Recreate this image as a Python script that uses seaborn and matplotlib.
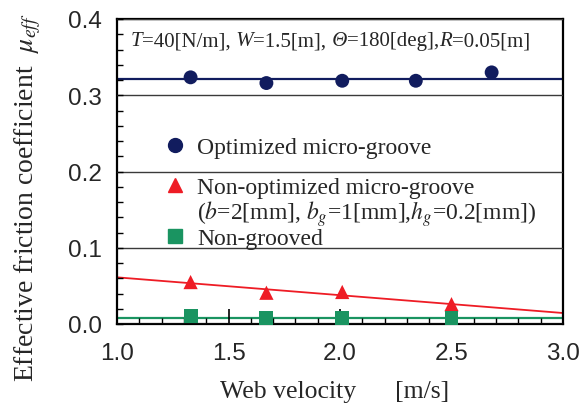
import matplotlib
matplotlib.use("Agg")
import matplotlib.pyplot as plt
from matplotlib.lines import Line2D
from matplotlib.ticker import MultipleLocator
import seaborn as sns

# ---- data ----
velocity_opt = [1.33, 1.67, 2.01, 2.34, 2.68]
mu_opt = [0.3235, 0.316, 0.319, 0.319, 0.330]
velocity_nonopt = [1.33, 1.67, 2.01, 2.50]
mu_nonopt = [0.055, 0.041, 0.042, 0.026]
velocity_flat = [1.33, 1.67, 2.01, 2.50]
mu_flat = [0.0100, 0.0083, 0.0076, 0.0076]
fit_x = [1.0, 3.0]
fit_opt = [0.3217, 0.3217]
fit_nonopt = [0.0612, 0.0144]
fit_flat = [0.0075, 0.0075]

x_ticks = [1.0, 1.5, 2.0, 2.5, 3.0]
y_ticks = [0.0, 0.1, 0.2, 0.3, 0.4]

series_labels = ["Optimized micro-groove",
                 "Non-optimized micro-groove",
                 r"($b$=2[mm], $b_g$=1[mm],$h_g$=0.2[mm])",
                 "Non-grooved"]
condition_parts = [("T", "italic"), ("=40[N/m],", "normal"),
                   (" W", "italic"), ("=1.5[m],", "normal"),
                   (" \u0398", "italic"), ("=180[deg],", "normal"),
                   ("R", "italic"), ("=0.05[m]", "normal")]

NAVY = "#111c5e"
RED = "#ee1c25"
GREEN = "#1a9461"
SERIF = "Liberation Serif"
SANS = "Liberation Sans"

sns.set_style("white")
plt.rcParams["mathtext.fontset"] = "stix"
plt.rcParams["font.family"] = [SERIF, "DejaVu Serif"]

fig = plt.figure(figsize=(5.82, 4.06), dpi=100)
ax = fig.add_axes([117 / 582, 1 - 325 / 406, 446 / 582, 305 / 406])

# fitted lines
sns.lineplot(x=fit_x, y=fit_opt, ax=ax, color=NAVY, lw=1.6, zorder=2)
sns.lineplot(x=fit_x, y=fit_nonopt, ax=ax, color=RED, lw=1.3, zorder=2)
sns.lineplot(x=fit_x, y=fit_flat, ax=ax, color=GREEN, lw=1.6, zorder=2)

# markers
sns.scatterplot(x=velocity_opt, y=mu_opt, ax=ax, marker="o", s=100,
                color=NAVY, edgecolor="none", zorder=3, clip_on=False)
sns.scatterplot(x=velocity_nonopt, y=mu_nonopt, ax=ax, marker="^", s=105,
                color=RED, edgecolor="none", zorder=3, clip_on=False)
sns.scatterplot(x=velocity_flat, y=mu_flat, ax=ax, marker="s", s=100,
                color=GREEN, edgecolor="none", zorder=3, clip_on=False)

ax.set_xlim(1.0, 3.0)
ax.set_ylim(0.0, 0.4)
ax.set_xticks(x_ticks)
ax.set_yticks(y_ticks)
ax.set_xticklabels([f"{v:.1f}" for v in x_ticks], fontfamily=SANS, fontsize=17.5)
ax.set_yticklabels([f"{v:.1f}" for v in y_ticks], fontfamily=SANS, fontsize=17.5)
ax.xaxis.set_minor_locator(MultipleLocator(0.1))
ax.yaxis.set_minor_locator(MultipleLocator(0.02))
ax.tick_params(axis="x", which="major", direction="in", length=11, width=1.2,
               color="black", pad=13, bottom=True, top=False)
ax.tick_params(axis="x", which="minor", direction="in", length=4, width=1.0,
               color="black", bottom=True, top=False)
ax.tick_params(axis="y", which="major", direction="in", length=4, width=1.0,
               color="black", pad=11, left=True, right=False)
ax.tick_params(axis="y", which="minor", direction="in", length=4, width=1.0,
               color="black", left=True, right=False)
ax.set_axisbelow(False)

ax.yaxis.grid(True, which="major", color="#3a3a3a", lw=1.0)
ax.xaxis.grid(False)

for sp in ax.spines.values():
    sp.set_visible(True)
    sp.set_color("black")
    sp.set_linewidth(1.6)

ax.set_xlabel("Web velocity      [m/s]", fontsize=18.5)
ax.xaxis.set_label_coords(0.4877, -0.184)
ax.set_ylabel(r"Effective friction coefficient  $\mu_{eff}$", fontsize=20)
ax.yaxis.set_label_coords(-0.165, 0.418)

# condition annotation, built from pieces so that symbols are italic
prev = ax.text(0.03, 0.928, condition_parts[0][0], transform=ax.transAxes,
               fontsize=15, fontstyle=condition_parts[0][1],
               ha="left", va="center")
for txt, style in condition_parts[1:]:
    prev = ax.annotate(txt, xy=(1, 0), xycoords=prev, fontsize=15,
                       fontstyle=style, ha="left", va="bottom")

fs_leg = 17
h1 = [Line2D([], [], ls="none", marker="o", ms=10, color=NAVY)]
leg1 = ax.legend(h1, series_labels[:1], loc="center left",
                 bbox_to_anchor=(0.1045, 0.579), frameon=False, fontsize=fs_leg,
                 handlelength=1.0, handletextpad=0.42, borderpad=0,
                 borderaxespad=0)
ax.add_artist(leg1)
h2 = [Line2D([], [], ls="none", marker="^", ms=10.5, color=RED),
      Line2D([], [], ls="none", marker="none"),
      Line2D([], [], ls="none", marker="s", ms=10, color=GREEN)]
ax.legend(h2, series_labels[1:], loc="center left", bbox_to_anchor=(0.1045, 0.365),
          frameon=False, fontsize=fs_leg, handlelength=1.0,
          handletextpad=0.42, borderpad=0, borderaxespad=0, labelspacing=0.0)

fig.savefig("out.png", dpi=100)
